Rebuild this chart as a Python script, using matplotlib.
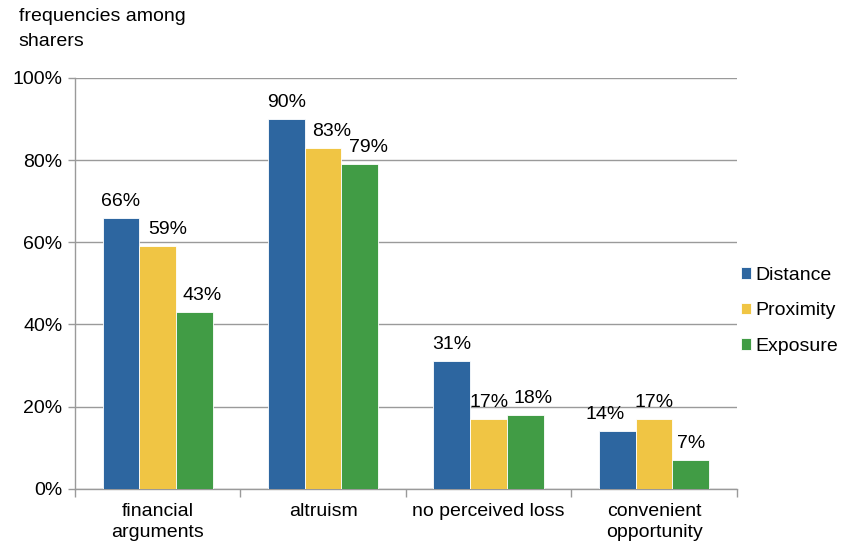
import matplotlib.pyplot as plt
import numpy as np

# data
categories = ["financial\narguments", "altruism", "no perceived loss", "convenient\nopportunity"]
series = ["Distance", "Proximity", "Exposure"]
distance = [66, 90, 31, 14]
proximity = [59, 83, 17, 17]
exposure = [43, 79, 18, 7]
colors = ["#2D66A0", "#F0C544", "#419C45"]

# horizontal nudges (pixels) of the value labels, as in the original
nudge = [[0, 0, 0, -12], [10, 9, 0, 0], [8, 9, 8, 0]]

plt.rcParams['font.family'] = ['Liberation Sans', 'DejaVu Sans']
fs = 14

fig = plt.figure(figsize=(8.42, 5.48), dpi=100)
ax = fig.add_axes([0.089, 0.108, 0.786, 0.750])

x = np.arange(len(categories))
w = 0.222
for i, (vals, name) in enumerate(zip([distance, proximity, exposure], series)):
    pos = x + (i - 1) * w
    ax.bar(pos, vals, w, color=colors[i], label=name, zorder=3,
           edgecolor='white', linewidth=0.6)
    for j, (xx, v) in enumerate(zip(pos, vals)):
        ax.annotate(f"{v}%", (xx, v), xytext=(nudge[i][j], 8), textcoords='offset pixels',
                    ha='center', va='bottom', fontsize=fs)

ax.set_xlim(-0.5, len(categories) - 0.5)
ax.set_ylim(0, 100)
ax.set_yticks(range(0, 101, 20))
ax.set_yticklabels([f"{t}%" for t in range(0, 101, 20)], fontsize=fs)
ax.yaxis.grid(True, color='#9a9a9a', linewidth=1, zorder=0)

ax.set_xticks(x)
ax.set_xticklabels(categories, fontsize=fs, linespacing=1.35)
ax.tick_params(axis='x', length=0, pad=10)
ax.set_xticks(np.arange(-0.5, len(categories), 1), minor=True)
ax.tick_params(axis='x', which='minor', length=6, color='#9a9a9a', width=1)
ax.tick_params(axis='y', length=5, color='#9a9a9a', width=1, pad=4)

for s in ['top', 'right']:
    ax.spines[s].set_visible(False)
for s in ['left', 'bottom']:
    ax.spines[s].set_color('#9a9a9a')
    ax.spines[s].set_linewidth(1)

fig.text(0.022, 0.985, "frequencies among\nsharers", ha='left', va='top', fontsize=fs,
         linespacing=1.6)

ax.legend(loc='center left', bbox_to_anchor=(1.0, 0.433), frameon=False, fontsize=fs,
          handlelength=0.55, handleheight=0.55, handletextpad=0.2, labelspacing=0.95,
          borderaxespad=0.0, borderpad=0.2)

fig.savefig("out.png", dpi=100)
